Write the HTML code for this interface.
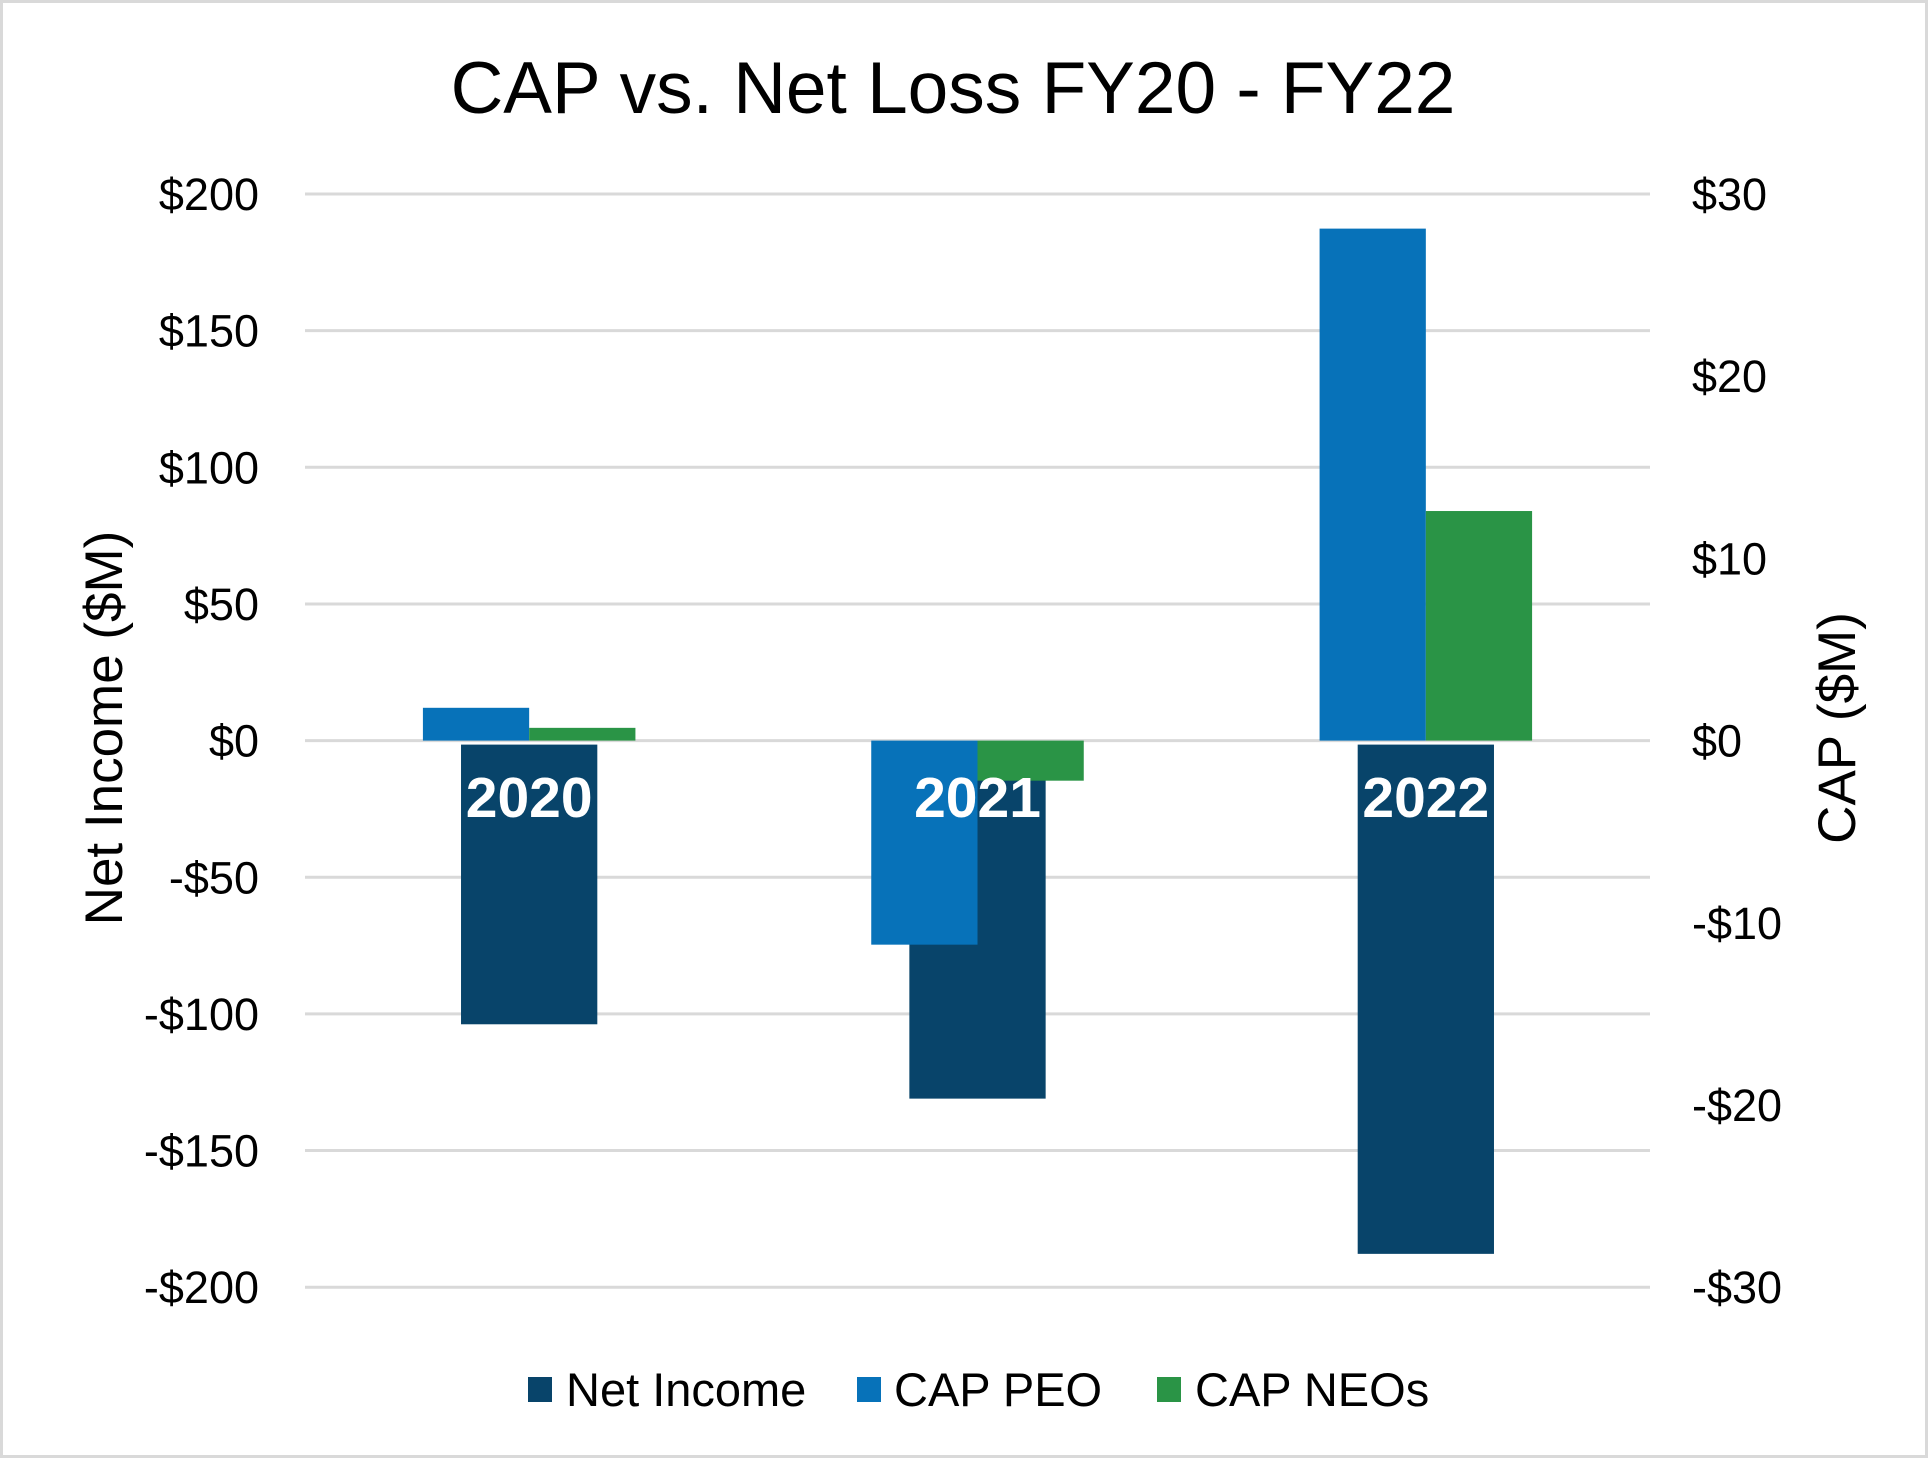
<!DOCTYPE html>
<html><head><meta charset="utf-8"><style>
html,body{margin:0;padding:0;background:#fff;}
svg{display:block;font-family:"Liberation Sans",Arial,sans-serif;}
</style></head><body>
<svg id="chart" width="1928" height="1460" viewBox="0 0 1928 1460">
<rect x="1.5" y="1.5" width="1925" height="1455" fill="#fff" stroke="#d9d9d9" stroke-width="3"/>
<text x="953" y="113" font-size="73" text-anchor="middle" fill="#000">CAP vs. Net Loss FY20 - FY22</text>
<g id="grid"></g>
<g id="bars"></g>
<g id="labels"></g>
<text transform="translate(122,728) rotate(-90)" font-size="53" text-anchor="middle" fill="#000">Net Income ($M)</text>
<text transform="translate(1855,728) rotate(-90)" font-size="53" text-anchor="middle" fill="#000">CAP ($M)</text>
<g>
<rect x="528" y="1377" width="24" height="25" fill="#08446A"/>
<text x="566" y="1406" font-size="47" fill="#000">Net Income</text>
<rect x="857" y="1377" width="24" height="25" fill="#0772B9"/>
<text x="894" y="1406" font-size="47" fill="#000">CAP PEO</text>
<rect x="1157" y="1377" width="24" height="25" fill="#2A9446"/>
<text x="1195" y="1406" font-size="47" fill="#000">CAP NEOs</text>
</g>
</svg>
<script>
const categories = ["2020", "2021", "2022"];
const netIncome = [-103.8, -131, -187.8];
const capPEO = [1.8, -11.2, 28.1];
const capNEOs = [0.7, -2.2, 12.6];
const leftTicks = [200, 150, 100, 50, 0, -50, -100, -150, -200];
const leftTickLabels = ["$200", "$150", "$100", "$50", "$0", "-$50", "-$100", "-$150", "-$200"];
const rightTicks = [30, 20, 10, 0, -10, -20, -30];
const rightTickLabels = ["$30", "$20", "$10", "$0", "-$10", "-$20", "-$30"];

const NS = "http://www.w3.org/2000/svg";
const plotL = 305, plotR = 1650, zeroY = 740.6, leftPx = 546.6 / 200, rightPx = 546.6 / 30;
const yL = v => zeroY - v * leftPx;
const yR = v => zeroY - v * rightPx;
const band = (plotR - plotL) / categories.length;
const xC = i => plotL + band * (i + 0.5);
function mk(tag, attrs, parent) {
  const e = document.createElementNS(NS, tag);
  for (const k in attrs) e.setAttribute(k, attrs[k]);
  parent.appendChild(e);
  return e;
}
const grid = document.getElementById('grid');
const bars = document.getElementById('bars');
const labels = document.getElementById('labels');
leftTicks.forEach((t, i) => {
  const l = mk('line', {x1: plotL, x2: plotR, y1: yL(t), y2: yL(t), stroke: '#d9d9d9', 'stroke-width': 3}, grid);
  
  
  const tx = mk('text', {x: 259, y: yL(t) + 16, 'font-size': 45, 'text-anchor': 'end', fill: '#000'}, grid);
  tx.textContent = leftTickLabels[i];
  
  
});
rightTicks.forEach((t, i) => {
  const tx = mk('text', {x: 1692, y: yR(t) + 16, 'font-size': 45, 'text-anchor': 'start', fill: '#000'}, grid);
  tx.textContent = rightTickLabels[i];
  
  
});
function bar(x, w, y0, y1, color, name) {
  const r = mk('rect', {x: x, width: w, y: Math.min(y0, y1), height: Math.abs(y1 - y0), fill: color}, bars);
  
  
}
const niW = band * 0.304, capW = band * 0.237;
categories.forEach((c, i) => {
  const cx = xC(i);
  bar(cx - niW / 2, niW, yL(0) + 4, yL(netIncome[i]), '#08446A', 'bar-net-income-' + c);
  bar(cx - capW, capW, yR(0), yR(capPEO[i]), '#0772B9', 'bar-cap-peo-' + c);
  bar(cx, capW, yR(0), yR(capNEOs[i]), '#2A9446', 'bar-cap-neos-' + c);
  const t = mk('text', {x: cx, y: 817, 'font-size': 57, 'font-weight': 'bold', 'text-anchor': 'middle', fill: '#fff'}, labels);
  t.textContent = c;
  
  
});
</script>
</body></html>
